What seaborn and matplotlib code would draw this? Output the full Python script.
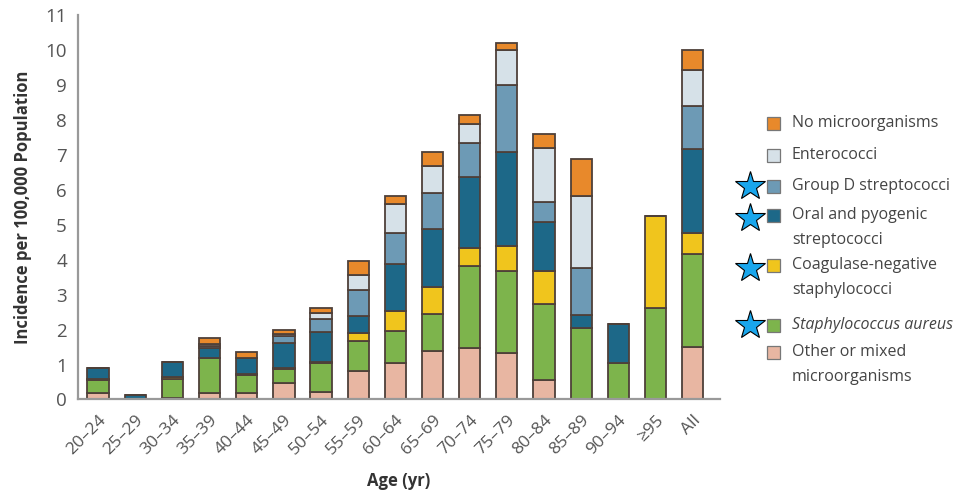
import pandas as pd
import seaborn as sns
import matplotlib.pyplot as plt
from matplotlib.patches import Rectangle

# Incidence per 100,000 by age group and organism
ages = ["20–24", "25–29", "30–34", "35–39", "40–44", "45–49", "50–54", "55–59", "60–64",
        "65–69", "70–74", "75–79", "80–84", "85–89", "90–94", "≥95", "All"]
other = [0.20, 0.00, 0.05, 0.18, 0.20, 0.46, 0.22, 0.82, 1.03, 1.38, 1.46, 1.34, 0.55, 0.00, 0.00, 0.00, 1.49]
aureus = [0.35, 0.00, 0.55, 1.00, 0.50, 0.40, 0.83, 0.86, 0.94, 1.06, 2.36, 2.34, 2.18, 2.05, 1.03, 2.61, 2.66]
cons = [0.03, 0.00, 0.03, 0.00, 0.02, 0.03, 0.02, 0.23, 0.56, 0.77, 0.51, 0.72, 0.95, 0.00, 0.00, 2.64, 0.62]
oral = [0.31, 0.13, 0.45, 0.30, 0.48, 0.72, 0.87, 0.49, 1.35, 1.67, 2.05, 2.68, 1.41, 0.37, 1.13, 0.00, 2.39]
group_d = [0.00, 0.00, 0.00, 0.05, 0.00, 0.20, 0.35, 0.73, 0.88, 1.02, 0.96, 1.93, 0.57, 1.33, 0.00, 0.00, 1.25]
entero = [0.00, 0.00, 0.00, 0.05, 0.00, 0.05, 0.18, 0.43, 0.84, 0.79, 0.54, 1.00, 1.53, 2.06, 0.00, 0.00, 1.03]
none = [0.00, 0.00, 0.00, 0.19, 0.17, 0.12, 0.14, 0.41, 0.21, 0.39, 0.27, 0.19, 0.41, 1.08, 0.00, 0.00, 0.55]

# legend order = top of stack to bottom
organisms = ["No microorganisms", "Enterococci", "Group D streptococci",
             "Oral and pyogenic streptococci", "Coagulase-negative staphylococci",
             "Staphylococcus aureus", "Other or mixed microorganisms"]
series = [none, entero, group_d, oral, cons, aureus, other]
colors = ["#E8892B", "#D6E1E8", "#6D9AB5", "#1D6888", "#F0C51D", "#7DB44C", "#E8B6A2"]

legend_lines = [["No microorganisms"], ["Enterococci"], ["Group D streptococci"],
                ["Oral and pyogenic", "streptococci"], ["Coagulase-negative", "staphylococci"],
                ["Staphylococcus aureus"], ["Other or mixed", "microorganisms"]]
starred = [False, False, True, True, True, True, False]

rows = []
for org, vals in zip(organisms, series):
    for age, v in zip(ages, vals):
        rows.append({"age": age, "organism": org, "value": v})
df = pd.DataFrame(rows)

sns.set_style("white")
plt.rcParams["font.family"] = ["Open Sans", "DejaVu Sans"]

fig = plt.figure(figsize=(9.56, 5.01), dpi=100)
ax = fig.add_axes([0.0816, 0.2026, 0.6714, 0.7674])

sns.histplot(data=df, x="age", weights="value", hue="organism", hue_order=organisms,
             palette=colors, multiple="stack", discrete=True, shrink=0.57,
             alpha=1, edgecolor="#4e4039", linewidth=1.3, legend=False, ax=ax)

ax.set_xlim(-0.54, 16.73)
ax.set_ylim(0, 11)
ax.set_yticks(range(0, 12))
ax.set_xticks(range(len(ages)))
ax.set_xticklabels(ages, rotation=45, ha="right", rotation_mode="anchor")
ax.tick_params(axis="both", colors="#888888", labelcolor="#555555",
               length=6, width=1.2, direction="out")
ax.tick_params(axis="y", labelsize=13.5, pad=2)
ax.tick_params(axis="x", labelsize=12.5, pad=3)
for side in ["top", "right"]:
    ax.spines[side].set_visible(False)
for side in ["left", "bottom"]:
    ax.spines[side].set_color("#999999")
    ax.spines[side].set_linewidth(1.6)
ax.set_xlabel("Age (yr)", fontsize=12, fontweight="bold", color="#333333", labelpad=10)
ax.set_ylabel("Incidence per 100,000 Population", fontsize=12, fontweight="bold",
              color="#333333", labelpad=10)

# custom legend on a pixel-coordinate overlay
ov = fig.add_axes([0, 0, 1, 1])
ov.set_xlim(0, 956)
ov.set_ylim(501, 0)
ov.axis("off")
entry_y = [123, 155, 186, 215, 265, 325, 352]
for y, col, lines, star in zip(entry_y, colors, legend_lines, starred):
    ov.add_patch(Rectangle((767, y - 6.5), 13, 13, facecolor=col, edgecolor="#777777", linewidth=0.9))
    for i, line in enumerate(lines):
        style = "italic" if line == "Staphylococcus aureus" else "normal"
        ov.text(792, y + i * 25, line, fontsize=11.5, color="#444444", va="center", style=style)
    if star:
        ov.plot(750, y + (3 if len(lines) > 1 else 0), marker="*", markersize=22,
                color="#19A6EC", markeredgecolor="black", markeredgewidth=0.8)

fig.savefig("out.png", dpi=100)
